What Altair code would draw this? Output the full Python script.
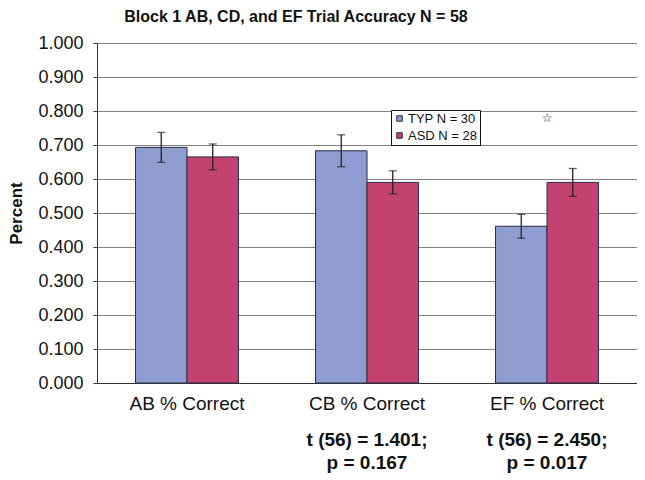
import altair as alt
import pandas as pd

categories = ["AB % Correct", "CB % Correct", "EF % Correct"]
groups = ["TYP N = 30", "ASD N = 28"]
typ_mean = [0.693, 0.683, 0.461]
asd_mean = [0.665, 0.590, 0.590]
typ_err = [0.044, 0.047, 0.035]
asd_err = [0.038, 0.034, 0.041]
colors = ["#8F9CCF", "#C4426F"]
y_ticks = [0.0, 0.1, 0.2, 0.3, 0.4, 0.5, 0.6, 0.7, 0.8, 0.9, 1.0]

stat_cats = ["CB % Correct", "EF % Correct"]
stat_line1 = ["t (56) = 1.401;", "t (56) = 2.450;"]
stat_line2 = ["p = 0.167", "p = 0.017"]

star_cat = ["EF % Correct"]
star_val = [0.78]

rows = []
for i, c in enumerate(categories):
    for g, m, e in ((groups[0], typ_mean[i], typ_err[i]), (groups[1], asd_mean[i], asd_err[i])):
        rows.append({"cat": c, "group": g, "mean": m, "lo": m - e, "hi": m + e})
df = pd.DataFrame(rows)

stats = pd.DataFrame({"cat": stat_cats, "l1": stat_line1, "l2": stat_line2})
star = pd.DataFrame({"cat": star_cat, "v": star_val})

FONT = "Liberation Sans"

xscale = alt.Scale(domain=categories, paddingInner=0.428, paddingOuter=0.214)
yscale = alt.Scale(domain=[0, 1])
yaxis = alt.Axis(title="Percent", format=".3f", values=y_ticks, tickCount=11,
                 labelOverlap=False, labelPadding=10,
                 labelFontSize=18, labelFont=FONT, labelColor="#111",
                 titleFontSize=17, titleFont=FONT, titleFontWeight="bold",
                 titleColor="#111", titlePadding=12, tickSize=4,
                 tickColor="#333", domainColor="#333",
                 grid=True, gridColor="#808080", gridWidth=1)
xaxis = alt.Axis(title=None, labelAngle=0, ticks=False, labelPadding=11,
                 labelFontSize=19, labelColor="#111", labelFont=FONT,
                 domainColor="#333")


def X():
    return alt.X("cat:N", scale=xscale, sort=categories, axis=xaxis)


def Y(field):
    return alt.Y(field, scale=yscale, axis=yaxis, title="Percent")


xoff = alt.XOffset("group:N", sort=groups, scale=alt.Scale(domain=groups))

base = alt.Chart(df)

bars = base.mark_bar(stroke="#2a2a48", strokeWidth=1).encode(
    x=X(),
    xOffset=xoff,
    y=Y("mean:Q"),
    color=alt.Color("group:N", sort=groups,
                    scale=alt.Scale(domain=groups, range=colors),
                    legend=alt.Legend(title=None, orient="none", legendX=294, legendY=67,
                                      strokeColor="#111", fillColor="white", padding=2,
                                      labelFontSize=13, labelFont=FONT, labelColor="#111",
                                      labelOffset=2,
                                      symbolType="square", symbolSize=30, rowPadding=3,
                                      symbolStrokeColor="#2a2a48", symbolStrokeWidth=1)),
)

rules = base.mark_rule(color="#222", strokeWidth=1.3).encode(
    x=X(), xOffset=xoff, y=Y("lo:Q"), y2="hi:Q")
cap_lo = base.mark_tick(color="#222", thickness=1.3, size=8, orient="horizontal").encode(
    x=X(), xOffset=xoff, y=Y("lo:Q"))
cap_hi = base.mark_tick(color="#222", thickness=1.3, size=8, orient="horizontal").encode(
    x=X(), xOffset=xoff, y=Y("hi:Q"))

t1 = alt.Chart(stats).mark_text(fontSize=19, fontWeight="bold", font=FONT, color="#111",
                                baseline="middle", clip=False).encode(
    x=X(), y=alt.value(397), text="l1:N")
t2 = alt.Chart(stats).mark_text(fontSize=19, fontWeight="bold", font=FONT, color="#111",
                                baseline="middle", clip=False).encode(
    x=X(), y=alt.value(420), text="l2:N")

st = alt.Chart(star).mark_text(text="☆", fontSize=12, font="DejaVu Sans", color="#222").encode(
    x=X(), y=Y("v:Q"))

chart = alt.layer(bars, rules, cap_lo, cap_hi, t1, t2, st).properties(
    width=540, height=340,
    title=alt.TitleParams("Block 1 AB, CD, and EF Trial Accuracy N = 58", fontSize=16,
                          font=FONT, fontWeight="bold", color="#111", anchor="middle",
                          dx=-71, offset=9),
    autosize=alt.AutoSizeParams(type="none"),
    padding={"left": 89, "top": 35, "right": 0, "bottom": 90},
).configure_view(stroke=None).configure_axis(labelFont=FONT)

chart.save("out.html", embed_options={"renderer": "svg", "actions": False})
